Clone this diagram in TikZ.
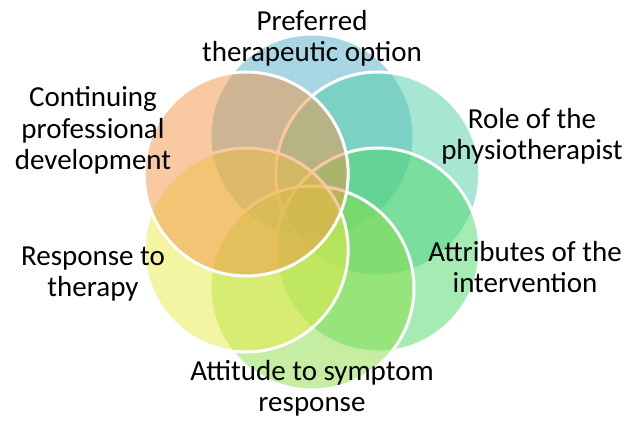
\documentclass[tikz,border=0pt]{standalone}
\usepackage{fontspec}
\setmainfont{Carlito}
\usepackage{tikz}

\definecolor{prefblue}{RGB}{81,173,197}
\definecolor{roleteal}{RGB}{81,205,169}
\definecolor{attrgreen}{RGB}{77,215,105}
\definecolor{attilime}{RGB}{139,221,69}
\definecolor{respyellow}{RGB}{231,235,69}
\definecolor{cpdorange}{RGB}{243,149,69}

\begin{document}
\begin{tikzpicture}[x=1pt,y=1pt,
        ring/.style={circle,draw=white,line width=3pt,fill opacity=0.5,minimum size=204pt,inner sep=0pt},
        lbl/.style={align=center,anchor=base,inner sep=0pt,font=\fontsize{29}{31.5}\selectfont}]
        \useasboundingbox (0,0) rectangle (630,425);
        \coordinate (O) at (312,213);

        % Draw the six circles, the first one ends up underneath
        \node[ring,fill=prefblue] (pref) at ([shift={(90:76)}]O) {};
        \node[ring,fill=roleteal] (role) at ([shift={(30:76)}]O) {};
        \node[ring,fill=attrgreen] (attr) at ([shift={(-30:76)}]O) {};
        \node[ring,fill=attilime] (atti) at ([shift={(-90:76)}]O) {};
        \node[ring,fill=respyellow] (resp) at ([shift={(-150:76)}]O) {};
        \node[ring,fill=cpdorange] (cpd) at ([shift={(150:76)}]O) {};

        % Labels round the ring (anchored on the last line)
        \node[lbl] (preftext) at (312,363) {Preferred\\therapeutic option};
        \node[lbl] (roletext) at (532,265) {Role of the\\physiotherapist};
        \node[lbl] (attrtext) at (525,132) {Attributes of the\\intervention};
        \node[lbl] (attitext) at (312,13) {Attitude to symptom\\response};
        \node[lbl] (resptext) at (93,128) {Response to\\therapy};
        \node[lbl] (cpdtext) at (93,255) {Continuing\\professional\\development};
    \end{tikzpicture}
\end{document}
